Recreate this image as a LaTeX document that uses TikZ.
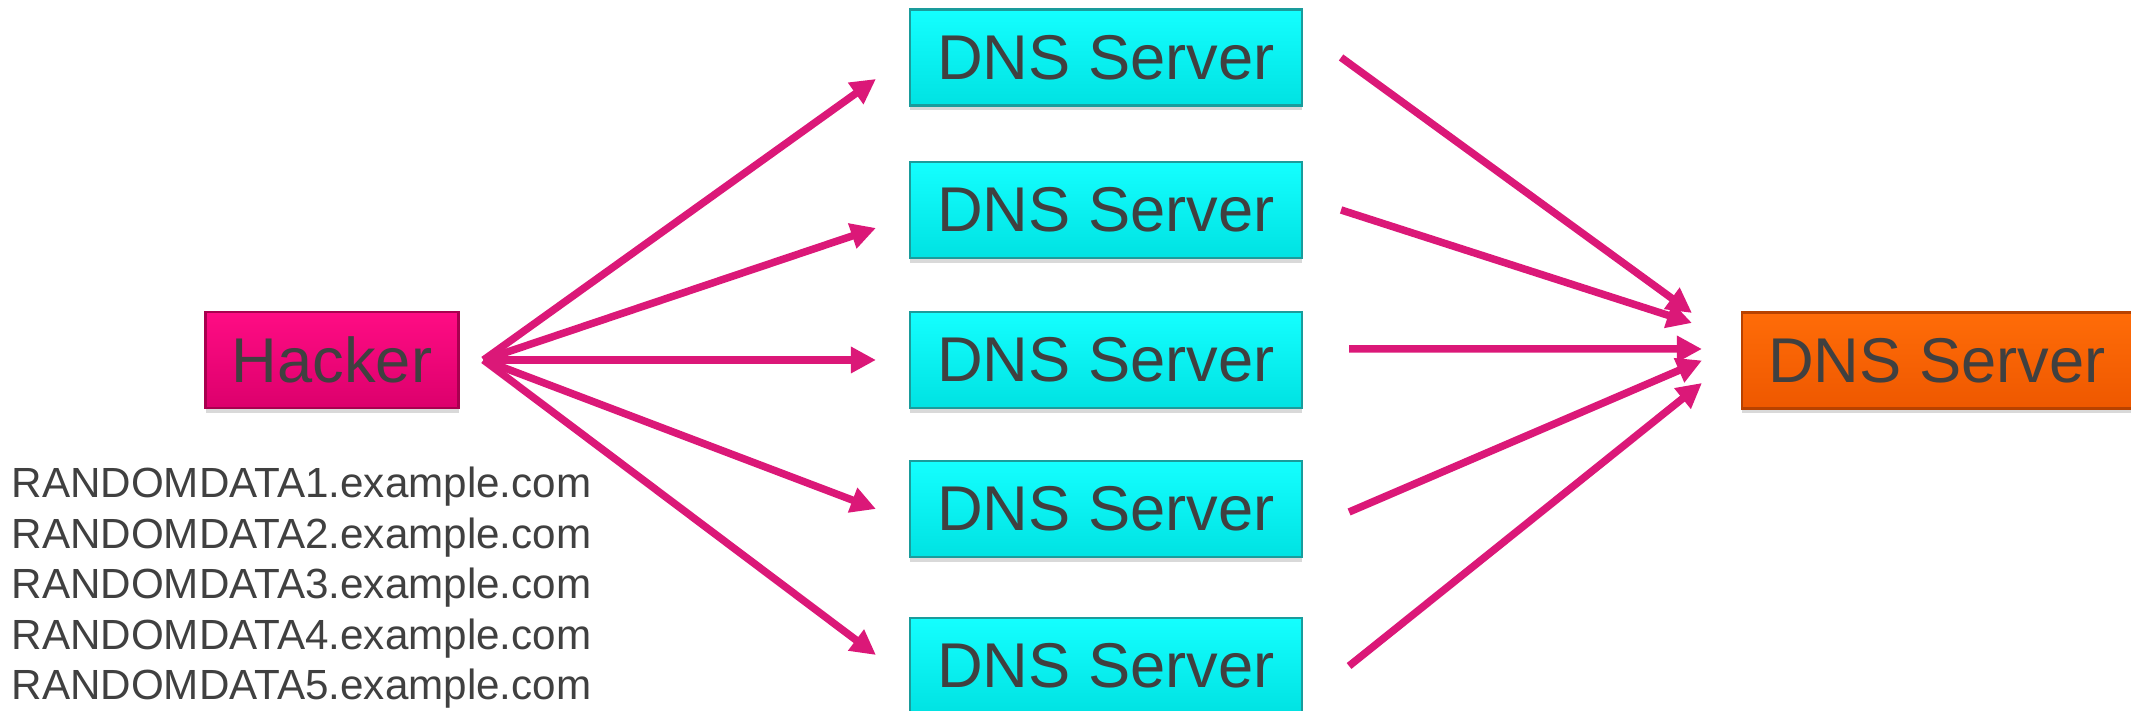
\documentclass[tikz,border=0pt]{standalone}
\usepackage{fontspec}
\setmainfont{Liberation Sans}
\usepackage{xcolor}
\usepackage{tikz}
\usetikzlibrary{arrows.meta,shadows}

\definecolor{textgray}{HTML}{404040}
\definecolor{attackpink}{HTML}{DB1878}
\definecolor{cyantop}{HTML}{14FFFF}
\definecolor{cyanbot}{HTML}{00E2E2}
\definecolor{cyanedge}{HTML}{1A9C9C}
\definecolor{pinktop}{HTML}{FF0C84}
\definecolor{pinkbot}{HTML}{DC006C}
\definecolor{pinkedge}{HTML}{A8004F}
\definecolor{orangetop}{HTML}{FF6C08}
\definecolor{orangebot}{HTML}{EE5800}
\definecolor{orangeedge}{HTML}{B84200}

\begin{document}
\begin{tikzpicture}[
    box/.style={rectangle,minimum width=3.92cm,minimum height=0.96cm,inner sep=0pt,
      font=\fontsize{18}{21}\selectfont,text=textgray,line width=0.6pt,
      drop shadow={shadow xshift=0pt,shadow yshift=-0.05cm,opacity=0.3}},
    server/.style={box,draw=cyanedge,top color=cyantop,bottom color=cyanbot},
    attacker/.style={box,minimum width=2.53cm,draw=pinkedge,top color=pinktop,bottom color=pinkbot},
    victim/.style={box,minimum width=3.9cm,draw=orangeedge,top color=orangetop,bottom color=orangebot},
    attack/.style={draw=attackpink,line width=0.075cm,
      -{Triangle[length=0.25cm,width=0.25cm]}}]
  \useasboundingbox (0,0) rectangle (21.31,7.11);

  % hacker and the random lookups
  \node[attacker] (hacker) at (3.32,3.51) {Hacker};
  \node[anchor=base west,align=left,inner sep=0pt,text=textgray,
        font=\fontsize{12}{14.4}\selectfont] (queries) at (0.11,0.11)
    {RANDOMDATA1.example.com\\RANDOMDATA2.example.com\\RANDOMDATA3.example.com\\
     RANDOMDATA4.example.com\\RANDOMDATA5.example.com};

  % open resolvers
  \node[server] (dns1) at (11.06,6.535) {DNS Server};
  \node[server] (dns2) at (11.06,5.01)  {DNS Server};
  \node[server] (dns3) at (11.06,3.51)  {DNS Server};
  \node[server] (dns4) at (11.06,2.02)  {DNS Server};
  \node[server] (dns5) at (11.06,0.45)  {DNS Server};

  % authoritative server under attack
  \node[victim] (target) at (19.37,3.505) {DNS Server};

  % fan out
  \coordinate (fan) at ([xshift=0.24cm]hacker.east);
  \draw[attack] (fan) -- ([shift={(-0.33,-0.215)}]dns1.west);
  \draw[attack] (fan) -- ([shift={(-0.33,-0.18)}]dns2.west);
  \draw[attack] (fan) -- ([shift={(-0.33,0)}]dns3.west);
  \draw[attack] (fan) -- ([shift={(-0.33,0)}]dns4.west);
  \draw[attack] (fan) -- ([shift={(-0.33,0.11)}]dns5.west);

  % fan in
  \draw[attack] ([shift={(0.38,0)}]dns1.east) -- ([shift={(-0.49,0.475)}]target.west);
  \draw[attack] ([shift={(0.38,0)}]dns2.east) -- ([shift={(-0.49,0.375)}]target.west);
  \draw[attack] ([shift={(0.46,0.11)}]dns3.east) -- ([shift={(-0.39,0.115)}]target.west);
  \draw[attack] ([shift={(0.46,-0.03)}]dns4.east) -- ([shift={(-0.39,0)}]target.west);
  \draw[attack] ([shift={(0.46,0)}]dns5.east) -- ([shift={(-0.39,-0.225)}]target.west);
\end{tikzpicture}
\end{document}
